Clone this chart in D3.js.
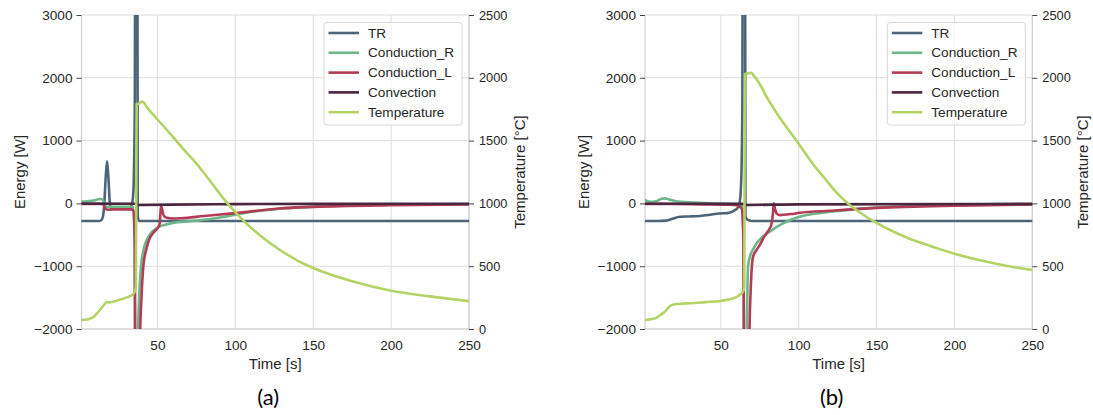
<!DOCTYPE html>
<html>
<head>
<meta charset="utf-8">
<script src="https://cdn.jsdelivr.net/npm/d3@7"></script>
<style>
  body { margin: 0; background: #fff; }
  svg { display: block; }
</style>
</head>
<body>
<svg id="chart" width="1093" height="415"></svg>
<script>
// ---- data: [time s, value] pairs per series ----
const seriesNames = ["TR", "Conduction_R", "Conduction_L", "Convection", "Temperature"];
const seriesColors = ["#4e6579", "#6db689", "#b23c54", "#4a2640", "#b3d465"];

const energyTicks = [-2000, -1000, 0, 1000, 2000, 3000];
const tempTicks = [0, 500, 1000, 1500, 2000, 2500];
const timeTicks = [50, 100, 150, 200, 250];
const timeDomain = [1.3, 250];
const energyDomain = [-2000, 3000];
const tempDomain = [0, 2500];

// (a)
const trA = [[1.3,-280],[13,-280],[14.5,-250],[15.8,-60],[16.8,400],[17.7,670],[18.6,400],[19.6,-20],[20.5,-75],[25,-80],[30,-78],[32.5,-65],[33.5,-30],[34.5,150],[35.5,1500],[36.2,12000],[36.8,12000],[37.4,-200],[38.2,-280],[250,-280]];
const condRA = [[1.3,30],[5,35],[9,45],[12,65],[14,70],[15.3,40],[16.5,-40],[18,-55],[25,-55],[33,-55],[34.5,-60],[35.3,-500],[35.9,-4000],[36.8,-4000],[37.5,-2200],[38.3,-1500],[39.5,-1000],[41,-750],[43,-590],[46,-470],[50,-390],[55,-340],[60,-310],[70,-285],[77,-270],[90,-225],[100,-180],[115,-120],[130,-80],[150,-52],[175,-33],[200,-22],[250,-12]];
const condLA = [[1.3,-10],[14,-10],[15.5,-20],[16.5,-80],[18,-100],[25,-95],[33,-95],[34.5,-110],[35.5,-600],[36.3,-6000],[38,-6000],[38.8,-2200],[39.8,-1500],[41,-1000],[43,-720],[45,-560],[48,-450],[50.5,-380],[51.5,-320],[52.3,-40],[53,-90],[54,-190],[56,-230],[60,-240],[65,-236],[80,-200],[100,-155],[128,-80],[150,-55],[200,-28],[250,-15]];
const convA = [[1.3,-3],[36,-5],[37,-25],[60,-20],[100,-12],[150,-8],[250,-5]];
const tempA = [[1.3,72],[5,76],[8,88],[10,108],[12,135],[14,165],[16,195],[17.5,215],[19,212],[21,215],[25,230],[30,250],[34,272],[35.5,300],[36.2,340],[36.7,1790],[38,1795],[40,1810],[41.5,1800],[43,1770],[46,1725],[50,1670],[58,1558],[67,1428],[77,1288],[88,1110],[95,1000],[100,931],[108,830],[116,745],[128,635],[140,545],[150,486],[175,380],[200,305],[225,260],[250,222]];

// (b)
const trB = [[1.3,-280],[10,-280],[15,-275],[19,-245],[23.7,-212],[30,-208],[36.5,-200],[42,-185],[49,-160],[54,-155],[57,-135],[59,-106],[60.5,-80],[62,0],[63,300],[63.8,1500],[64.4,12000],[65.2,12000],[65.8,-200],[67,-260],[69.7,-280],[250,-280]];
const condRB = [[1.3,52],[5,25],[9,40],[12,75],[14,80],[17,60],[21,35],[25,25],[32,15],[40,5],[50,-3],[60,-10],[63,-20],[64,-100],[64.8,-1500],[65.3,-5000],[66.2,-5000],[66.8,-2000],[67.5,-1000],[69,-820],[71,-720],[73,-635],[77,-530],[81.4,-450],[85,-390],[90,-318],[95,-260],[100.6,-212],[110,-165],[120,-133],[135,-95],[150,-68],[175,-42],[200,-28],[250,-15]];
const condLB = [[1.3,-8],[20,-10],[40,-15],[55,-22],[60,-30],[62,-50],[63.5,-90],[64.5,-600],[65.3,-6000],[67.5,-6000],[68.3,-2200],[69.3,-1300],[70.7,-847],[73,-740],[75,-662],[78,-520],[81.4,-397],[82.6,-320],[83.5,-150],[84,0],[84.7,-80],[85.8,-160],[87.8,-186],[95,-170],[100.6,-150],[120,-117],[150,-72],[200,-36],[250,-18]];
const convB = [[1.3,-5],[64,-8],[66,-25],[100,-15],[250,-8]];
const tempB = [[1.3,72],[5,78],[8.8,90],[11,110],[14.1,138],[17.3,183],[20.5,197],[25,202],[30,205],[40,214],[49.4,223],[54,232],[57.9,244],[60.5,258],[62,271],[64.3,297],[65,330],[65.5,2030],[67,2035],[69.5,2040],[71,2020],[75,1950],[79.3,1850],[88,1680],[98.5,1500],[110,1300],[116,1210],[124,1090],[131.6,1000],[140,922],[150,845],[160,780],[170,725],[180,680],[190,638],[200,600],[220,537],[235,500],[250,470]];

const panels = [
  { id: "a", left: 81.5, right: 469, caption: "(a)", energy: [trA, condRA, condLA, convA], temp: tempA },
  { id: "b", left: 645, right: 1032.3, caption: "(b)", energy: [trB, condRB, condLB, convB], temp: tempB }
];

// ---- layout ----
const plotTop = 15, plotBottom = 329;
const gridColor = "#dcdcdc";
const textColor = "#262626";
const tickFont = "'Liberation Sans', Arial, sans-serif";

const svg = d3.select("#chart");
const defs = svg.append("defs");

panels.forEach(p => {
  const x = d3.scaleLinear().domain(timeDomain).range([p.left, p.right]);
  const yE = d3.scaleLinear().domain(energyDomain).range([plotBottom, plotTop]);
  const yT = d3.scaleLinear().domain(tempDomain).range([plotBottom, plotTop]);

  const g = svg.append("g");

  // grid
  g.append("g").selectAll("line").data(energyTicks).join("line")
    .attr("x1", p.left).attr("x2", p.right)
    .attr("y1", d => yE(d)).attr("y2", d => yE(d))
    .attr("stroke", gridColor).attr("stroke-width", 1);
  g.append("g").selectAll("line").data(timeTicks).join("line")
    .attr("x1", d => x(d)).attr("x2", d => x(d))
    .attr("y1", plotTop).attr("y2", plotBottom)
    .attr("stroke", gridColor).attr("stroke-width", 1);

  // spines
  g.append("line").attr("x1", p.left).attr("x2", p.left).attr("y1", plotTop).attr("y2", plotBottom)
    .attr("stroke", "#cfcfcf").attr("stroke-width", 1.2);
  g.append("line").attr("x1", p.right).attr("x2", p.right).attr("y1", plotTop).attr("y2", plotBottom)
    .attr("stroke", "#cfcfcf").attr("stroke-width", 1.2);
  g.append("line").attr("x1", p.left).attr("x2", p.right).attr("y1", plotBottom).attr("y2", plotBottom)
    .attr("stroke", "#cfcfcf").attr("stroke-width", 1.2);

  // axes
  const axL = d3.axisLeft(yE).tickValues(energyTicks).tickSize(5).tickPadding(4)
    .tickFormat(d => d < 0 ? "\u2212" + Math.abs(d) : String(d));
  const gl = g.append("g").attr("transform", `translate(${p.left},0)`).call(axL);
  const axR = d3.axisRight(yT).tickValues(tempTicks).tickSize(5).tickPadding(5)
    .tickFormat(d3.format("d"));
  const gr = g.append("g").attr("transform", `translate(${p.right},0)`).call(axR);
  const axB = d3.axisBottom(x).tickValues(timeTicks).tickSize(0).tickPadding(11)
    .tickFormat(d3.format("d"));
  const gb = g.append("g").attr("transform", `translate(0,${plotBottom})`).call(axB);
  [gl, gr, gb].forEach(a => {
    a.select(".domain").remove();
    a.selectAll(".tick line").attr("stroke", "#444").attr("stroke-width", 1);
    a.selectAll("text").attr("fill", textColor).style("font-family", tickFont).style("font-size", "13.6px");
  });
  gr.selectAll("text").style("font-size", "12.8px");

  // axis titles
  g.append("text").attr("transform", `translate(${p.left - 62},${(plotTop + plotBottom) / 2}) rotate(-90)`)
    .attr("text-anchor", "middle").attr("dominant-baseline", "central")
    .attr("fill", textColor).style("font-family", tickFont).style("font-size", "15px")
    .text("Energy [W]");
  g.append("text").attr("transform", `translate(${p.right + 50},${(plotTop + plotBottom) / 2}) rotate(-90)`)
    .attr("text-anchor", "middle").attr("dominant-baseline", "central")
    .attr("fill", textColor).style("font-family", tickFont).style("font-size", "15px")
    .text("Temperature [\u00B0C]");
  g.append("text").attr("x", (p.left + p.right) / 2).attr("y", 363)
    .attr("text-anchor", "middle").attr("dominant-baseline", "central")
    .attr("fill", textColor).style("font-family", tickFont).style("font-size", "15px")
    .text("Time [s]");

  // caption
  g.append("text").attr("x", (p.left + p.right) / 2 - 7).attr("y", 396)
    .attr("text-anchor", "middle").attr("dominant-baseline", "central")
    .attr("fill", "#000").style("font-family", "Lato, 'Open Sans', sans-serif").style("font-size", "22px")
    .text(p.caption);

  // clip region
  const clipId = "clip-" + p.id;
  defs.append("clipPath").attr("id", clipId).append("rect")
    .attr("x", p.left).attr("y", plotTop).attr("width", p.right - p.left).attr("height", plotBottom - plotTop);

  const plot = g.append("g").attr("clip-path", `url(#${clipId})`);
  const lineE = d3.line().x(d => x(d[0])).y(d => yE(d[1])).curve(d3.curveMonotoneX);
  const lineT = d3.line().x(d => x(d[0])).y(d => yT(d[1])).curve(d3.curveMonotoneX);

  p.energy.forEach((s, i) => {
    plot.append("path").datum(s).attr("d", lineE)
      .attr("fill", "none").attr("stroke", seriesColors[i]).attr("stroke-width", 2.6)
      .attr("stroke-linejoin", "round").attr("stroke-linecap", "round");
  });
  plot.append("path").datum(p.temp).attr("d", lineT)
    .attr("fill", "none").attr("stroke", seriesColors[4]).attr("stroke-width", 2.6)
    .attr("stroke-linejoin", "round").attr("stroke-linecap", "round");

  // legend
  const lx = p.right - 145, ly = 22.5;
  const lg = g.append("g");
  lg.append("rect").attr("x", lx).attr("y", ly).attr("width", 138).attr("height", 102.5)
    .attr("rx", 3).attr("fill", "#fff").attr("fill-opacity", 0.8)
    .attr("stroke", "#d6d6d6").attr("stroke-width", 1);
  seriesNames.forEach((name, i) => {
    const yy = ly + 10.5 + i * 19.8;
    lg.append("line").attr("x1", lx + 4.5).attr("x2", lx + 35).attr("y1", yy).attr("y2", yy)
      .attr("stroke", seriesColors[i]).attr("stroke-width", 2.6);
    lg.append("text").attr("x", lx + 44).attr("y", yy).attr("dominant-baseline", "central")
      .attr("fill", textColor).style("font-family", tickFont).style("font-size", "13.6px")
      .text(name);
  });
});
</script>
</body>
</html>
